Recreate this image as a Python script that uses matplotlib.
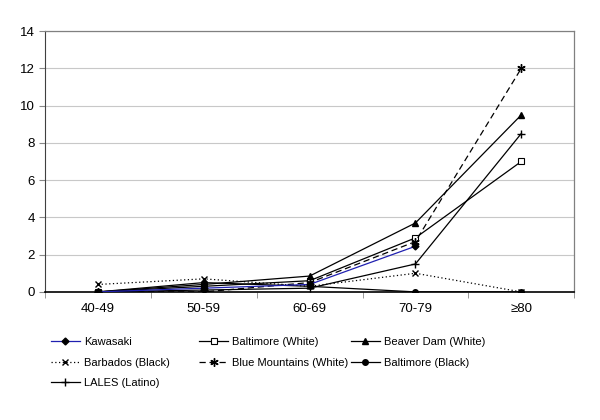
import numpy as np
import matplotlib
matplotlib.use('agg')
import matplotlib.pyplot as plt

plt.rcParams['font.family'] = ['Liberation Sans', 'DejaVu Sans']

age_groups = ['40-49', '50-59', '60-69', '70-79', '≥80']

kawasaki       = [0.0, 0.2, 0.4, 2.45, np.nan]
balt_white     = [0.0, 0.3, 0.6, 2.9, 7.0]
beaver_dam     = [0.0, 0.4, 0.85, 3.7, 9.5]
barbados       = [0.4, 0.7, 0.3, 1.0, 0.0]
blue_mountains = [0.0, 0.0, 0.5, 2.7, 12.0]
balt_black     = [0.0, 0.5, 0.3, 0.0, 0.0]
lales          = [0.0, 0.1, 0.2, 1.5, 8.5]

yticks = [0, 2, 4, 6, 8, 10, 12, 14]

fig = plt.figure(figsize=(6, 4.2), dpi=100)
ax = fig.add_axes([0.075, 0.305, 0.882, 0.621])

x = np.arange(len(age_groups))
lw = 0.9
ms = 4

h_kaw, = ax.plot(x, kawasaki, color='#2020b0', lw=lw, marker='D', ms=3.5,
                 mfc='black', mec='black', label='Kawasaki', zorder=4)
h_bw, = ax.plot(x, balt_white, color='black', lw=lw, marker='s', ms=ms,
                mfc='white', mec='black', mew=0.8, label='Baltimore (White)', zorder=3)
h_bd, = ax.plot(x, beaver_dam, color='black', lw=lw, marker='^', ms=ms + 1,
                mfc='black', mec='black', label='Beaver Dam (White)', zorder=3)
h_bar, = ax.plot(x, barbados, color='black', lw=lw, ls=(0, (1, 2)), marker='x', ms=ms + 1,
                 mec='black', label='Barbados (Black)', zorder=3)
h_bm, = ax.plot(x, blue_mountains, color='black', lw=lw, ls=(0, (5, 3)), marker=(6, 2, 0), ms=ms + 2,
                mec='black', label='Blue Mountains (White)', zorder=3)
h_bb, = ax.plot(x, balt_black, color='black', lw=lw, marker='o', ms=ms,
                mfc='black', mec='black', label='Baltimore (Black)', zorder=3)
h_la, = ax.plot(x, lales, color='black', lw=lw, marker='+', ms=ms + 2,
                mec='black', label='LALES (Latino)', zorder=3)

ax.set_xlim(-0.5, len(age_groups) - 0.5)
ax.set_ylim(0, 14)
ax.set_yticks(yticks)
ax.set_xticks(x)
ax.set_xticklabels(age_groups, fontsize=9.5)
ax.set_xticks(np.arange(-0.5, len(age_groups), 1), minor=True)
ax.tick_params(axis='x', which='major', length=0, pad=8)
ax.tick_params(axis='x', which='minor', length=4, color='#888888', direction='out')
ax.tick_params(axis='y', labelsize=9.5, length=4, color='#888888', direction='out')

ax.grid(axis='y', color='#c8c8c8', lw=0.8)
ax.set_axisbelow(True)

for side in ['top', 'right']:
    ax.spines[side].set_color('#808080')
    ax.spines[side].set_linewidth(0.9)
ax.spines['left'].set_color('#404040')
ax.spines['bottom'].set_color('black')
ax.spines['bottom'].set_linewidth(1.2)

# legend in three fixed columns, read row by row like the original
columns = [([h_kaw, h_bar, h_la], 0.085),
           ([h_bw, h_bm], 0.332),
           ([h_bd, h_bb], 0.585)]
for hs, xpos in columns:
    leg = fig.legend(handles=hs, labels=[h.get_label() for h in hs],
                     loc='upper left', bbox_to_anchor=(xpos, 0.197), frameon=False,
                     fontsize=8, handlelength=2.6, handletextpad=0.35,
                     labelspacing=0.95, borderpad=0, borderaxespad=0)

fig.savefig('out.png', dpi=100)
